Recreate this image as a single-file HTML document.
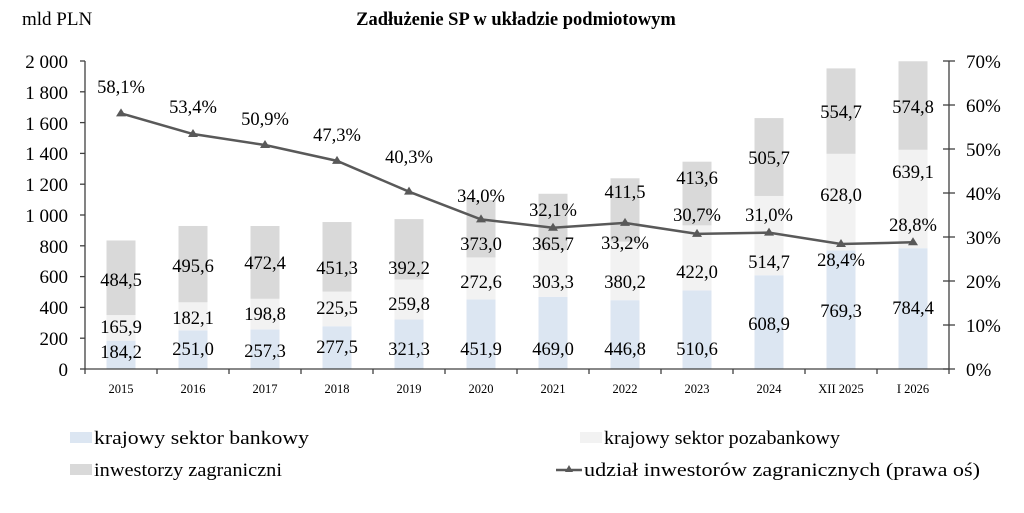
<!DOCTYPE html>
<html><head><meta charset="utf-8">
<style>
html,body{margin:0;padding:0;background:#fff;}
svg{display:block;font-family:"Liberation Serif",serif;}
</style></head>
<body>
<svg id="c" width="1024" height="513" viewBox="0 0 1024 513" xmlns="http://www.w3.org/2000/svg">
<rect width="1024" height="513" fill="#fff"/>
<g id="bars"></g>
<g id="axes" stroke="#404040" stroke-width="1.3" fill="none"></g>
<polyline id="line" fill="none" stroke="#595959" stroke-width="2.5"/>
<g id="marks" fill="#595959"></g>
<text x="22" y="25" font-size="19" fill="#000">mld PLN</text>
<text x="516" y="25" font-size="18.5" font-weight="bold" text-anchor="middle">Zadłużenie SP w układzie podmiotowym</text>
<g font-size="19" text-anchor="end" fill="#000">
<text x="68" y="68">2 000</text><text x="68" y="99">1 800</text><text x="68" y="130">1 600</text><text x="68" y="160">1 400</text><text x="68" y="191">1 200</text><text x="68" y="222">1 000</text><text x="68" y="253">800</text><text x="68" y="283">600</text><text x="68" y="314">400</text><text x="68" y="345">200</text><text x="68" y="376">0</text>
</g>
<g font-size="19" fill="#000">
<text x="966" y="68">70%</text><text x="966" y="112">60%</text><text x="966" y="156">50%</text><text x="966" y="200">40%</text><text x="966" y="244">30%</text><text x="966" y="288">20%</text><text x="966" y="332">10%</text><text x="966" y="376">0%</text>
</g>
<g font-size="12.5" text-anchor="middle" fill="#000">
<text x="121" y="393">2015</text><text x="193" y="393">2016</text><text x="265" y="393">2017</text><text x="337" y="393">2018</text><text x="409" y="393">2019</text><text x="481" y="393">2020</text><text x="553" y="393">2021</text><text x="625" y="393">2022</text><text x="697" y="393">2023</text><text x="769" y="393">2024</text><text x="841" y="393">XII 2025</text><text x="913" y="393">I 2026</text>
</g>
<g font-size="18.5" text-anchor="middle" fill="#000">
<text x="121" y="358">184,2</text><text x="121" y="333">165,9</text><text x="121" y="286">484,5</text><text x="121" y="93">58,1%</text>
<text x="193" y="355">251,0</text><text x="193" y="324">182,1</text><text x="193" y="272">495,6</text><text x="193" y="113">53,4%</text>
<text x="265" y="357">257,3</text><text x="265" y="320">198,8</text><text x="265" y="269">472,4</text><text x="265" y="125">50,9%</text>
<text x="337" y="353">277,5</text><text x="337" y="314">225,5</text><text x="337" y="274">451,3</text><text x="337" y="141">47,3%</text>
<text x="409" y="355">321,3</text><text x="409" y="310">259,8</text><text x="409" y="274">392,2</text><text x="409" y="163">40,3%</text>
<text x="481" y="355">451,9</text><text x="481" y="288">272,6</text><text x="481" y="250">373,0</text><text x="481" y="202">34,0%</text>
<text x="553" y="355">469,0</text><text x="553" y="288">303,3</text><text x="553" y="250">365,7</text><text x="553" y="216">32,1%</text>
<text x="625" y="355">446,8</text><text x="625" y="288">380,2</text><text x="625" y="198">411,5</text><text x="625" y="249">33,2%</text>
<text x="697" y="355">510,6</text><text x="697" y="278">422,0</text><text x="697" y="184">413,6</text><text x="697" y="221">30,7%</text>
<text x="769" y="330">608,9</text><text x="769" y="268">514,7</text><text x="769" y="164">505,7</text><text x="769" y="221">31,0%</text>
<text x="841" y="317">769,3</text><text x="841" y="201">628,0</text><text x="841" y="118">554,7</text><text x="841" y="266">28,4%</text>
<text x="913" y="314">784,4</text><text x="913" y="178">639,1</text><text x="913" y="113">574,8</text><text x="913" y="231">28,8%</text>
</g>
<rect x="70" y="432" width="22" height="11" fill="#dce6f2"/>
<text x="94" y="444" font-size="19" textLength="215" lengthAdjust="spacingAndGlyphs">krajowy sektor bankowy</text>
<rect x="70" y="464" width="22" height="11" fill="#d9d9d9"/>
<text x="94" y="476" font-size="19" textLength="188" lengthAdjust="spacingAndGlyphs">inwestorzy zagraniczni</text>
<rect x="580" y="432" width="22" height="11" fill="#f2f2f2"/>
<text x="604" y="444" font-size="19" textLength="236" lengthAdjust="spacingAndGlyphs">krajowy sektor pozabankowy</text>
<line x1="556" y1="470" x2="582" y2="470" stroke="#595959" stroke-width="2.5"/>
<polygon points="569,465 573,472 565,472" fill="#595959"/>
<text x="584" y="476" font-size="19" textLength="396" lengthAdjust="spacingAndGlyphs">udział inwestorów zagranicznych (prawa oś)</text>
<script>
(function(){
var d=[[184.2,165.9,484.5],[251.0,182.1,495.6],[257.3,198.8,472.4],[277.5,225.5,451.3],[321.3,259.8,392.2],[451.9,272.6,373.0],[469.0,303.3,365.7],[446.8,380.2,411.5],[510.6,422.0,413.6],[608.9,514.7,505.7],[769.3,628.0,554.7],[784.4,639.1,574.8]];
var p=[58.1,53.4,50.9,47.3,40.3,34.0,32.1,33.2,30.7,31.0,28.4,28.8];
var cols=["#dce6f2","#f2f2f2","#d9d9d9"];
var ns="http://www.w3.org/2000/svg";
function el(t,a,par){var e=document.createElementNS(ns,t);for(var k in a)e.setAttribute(k,a[k]);document.getElementById(par).appendChild(e);return e;}
var y0=369,k=308/2000,kp=308/70,pts=[];
for(var i=0;i<12;i++){var cx=121+72*i,acc=0;
 for(var j=0;j<3;j++){var h=d[i][j]*k;el("rect",{x:cx-14.5,y:y0-(acc+h),width:29,height:h,fill:cols[j]},"bars");acc+=h;}
 var py=y0-p[i]*kp;pts.push(cx+","+py);
 el("polygon",{points:cx+","+(py-5)+" "+(cx+5)+","+(py+3)+" "+(cx-5)+","+(py+3)},"marks");
}
document.getElementById("line").setAttribute("points",pts.join(" "));
el("line",{x1:85,y1:61,x2:85,y2:369},"axes");
el("line",{x1:85,y1:369,x2:949,y2:369},"axes");
el("line",{x1:949,y1:61,x2:949,y2:369},"axes");
for(var i=0;i<=10;i++){var y=369-i*30.8;el("line",{x1:80,y1:y,x2:85,y2:y},"axes");}
for(var i=0;i<=7;i++){var y=369-i*44;el("line",{x1:943,y1:y,x2:955,y2:y},"axes");}
for(var i=0;i<=12;i++){var x=85+72*i;el("line",{x1:x,y1:369,x2:x,y2:374},"axes");}
})();
</script>
</svg>
</body></html>
